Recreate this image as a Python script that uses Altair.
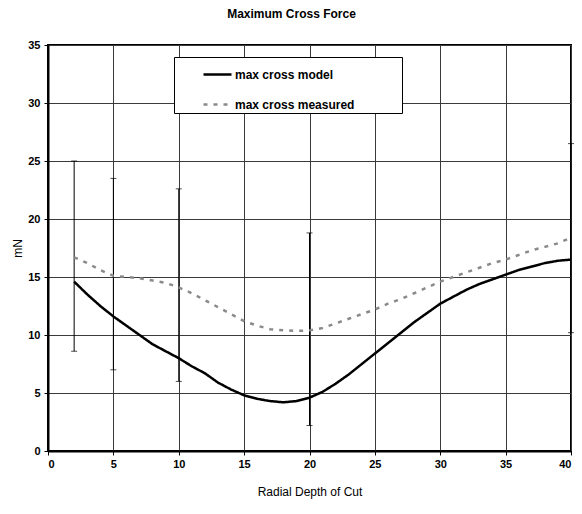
import altair as alt
import pandas as pd

depth = list(range(2, 41))
model = [14.6, 13.5, 12.5, 11.6, 10.8, 10.0, 9.2, 8.6, 8.0, 7.3, 6.7, 5.9, 5.3, 4.8,
         4.5, 4.3, 4.2, 4.3, 4.6, 5.1, 5.8, 6.6, 7.5, 8.4, 9.3, 10.2, 11.1, 11.9,
         12.7, 13.3, 13.9, 14.4, 14.8, 15.2, 15.6, 15.9, 16.2, 16.4, 16.5]
measured = [16.7, 16.2, 15.6, 15.1, 15.0, 14.9, 14.7, 14.5, 14.1, 13.6, 13.0, 12.4,
            11.8, 11.2, 10.8, 10.5, 10.4, 10.35, 10.4, 10.6, 11.0, 11.4, 11.8, 12.2,
            12.7, 13.1, 13.6, 14.1, 14.6, 15.0, 15.4, 15.8, 16.2, 16.5, 16.9, 17.3,
            17.6, 17.9, 18.4]
err_x = [2, 5, 10, 20, 40]
err_lo = [8.6, 7.0, 6.0, 2.2, 10.2]
err_hi = [25.0, 23.5, 22.6, 18.8, 26.5]
series_names = ["max cross model", "max cross measured"]

lines = pd.DataFrame({
    "depth": depth * 2,
    "force": model + measured,
    "series": [series_names[0]] * len(depth) + [series_names[1]] * len(depth),
})
errs = pd.DataFrame({"depth": err_x, "lo": err_lo, "hi": err_hi})

FONT = "Liberation Sans"
BLANK_PAD = "\u2800" * 5

x_enc = alt.X("depth:Q", scale=alt.Scale(domain=[0, 40], nice=False),
              axis=alt.Axis(values=list(range(0, 41, 5)), title="Radial Depth of Cut"))
y_enc = alt.Y("force:Q", scale=alt.Scale(domain=[0, 35], nice=False),
              axis=alt.Axis(values=list(range(0, 36, 5)), title="mN"))

line_layer = alt.Chart(lines).mark_line(strokeWidth=2.5).encode(
    x=x_enc,
    y=y_enc,
    color=alt.Color("series:N", scale=alt.Scale(domain=series_names, range=["#000000", "#8a8a8a"]),
                    legend=alt.Legend(title=None, orient="none", legendX=126, legendY=12,
                                      fillColor="white", strokeColor="black", padding=2,
                                      symbolType="stroke", symbolSize=784, symbolStrokeWidth=2.5,
                                      symbolOffset=26, rowPadding=8, labelFontSize=12,
                                      labelFontWeight="bold", labelFont=FONT, labelColor="black",
                                      labelOffset=2, labelLimit=400,
                                      labelExpr=f"datum.label + '{BLANK_PAD}'")),
    strokeDash=alt.StrokeDash("series:N", scale=alt.Scale(domain=series_names, range=[[1, 0], [4, 6]]),
                              legend=alt.Legend(title=None)),
)

err_rule = alt.Chart(errs).mark_rule(color="black", strokeWidth=1).encode(
    x="depth:Q", y="lo:Q", y2="hi:Q")
err_cap_lo = alt.Chart(errs).mark_tick(color="black", orient="horizontal", size=6, thickness=1).encode(
    x="depth:Q", y="lo:Q")
err_cap_hi = alt.Chart(errs).mark_tick(color="black", orient="horizontal", size=6, thickness=1).encode(
    x="depth:Q", y="hi:Q")

chart = alt.layer(err_rule, err_cap_lo, err_cap_hi, line_layer).properties(
    width=523, height=406,
    title=alt.TitleParams("Maximum Cross Force", fontSize=12, font=FONT, fontWeight="bold",
                          anchor="middle", dx=-18, offset=18, color="black"),
    autosize=alt.AutoSizeParams(type="none"),
    padding={"left": 48, "top": 45, "right": 11, "bottom": 63},
    background="white",
).configure_view(stroke="black", strokeWidth=2).configure_axis(
    grid=True, gridColor="#3a3a3a", gridWidth=1, gridOpacity=1,
    domainColor="black", domainWidth=2,
    tickColor="black", tickSize=4,
    labelFont=FONT, labelFontSize=11, labelFontWeight="bold", labelColor="black",
    titleFont=FONT, titleFontSize=12, titleFontWeight="normal", titleColor="black",
).configure_axisX(labelPadding=3, titlePadding=17).configure_axisY(
    labelPadding=4, titlePadding=3)

chart.save("out.html", embed_options={"renderer": "svg", "actions": False})
